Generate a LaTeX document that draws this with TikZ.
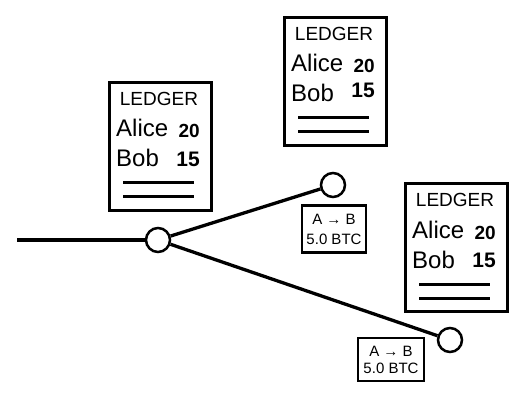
\documentclass[tikz,border=0pt]{standalone}
\usepackage{fontspec}
\setmainfont{Liberation Sans}
\begin{document}
\begin{tikzpicture}[x=1pt,y=-1pt,
  ledgerframe/.style={draw,line width=2.8pt,minimum width=102pt,minimum height=128pt,inner sep=0pt,anchor=north west},
  ledgertitle/.style={inner sep=0pt,anchor=base,font=\fontsize{19}{21}\selectfont},
  ledgername/.style={inner sep=0pt,anchor=base west,font=\fontsize{24}{27}\selectfont},
  ledgerval/.style={inner sep=0pt,anchor=base east,font=\fontsize{21}{23}\selectfont\bfseries},
  ledgerrule/.style={line width=3pt},
  chainnode/.style={circle,draw,line width=2.5pt,fill=white,minimum size=24pt,inner sep=0pt},
  chainline/.style={line width=3.3pt},
  txbox/.style={draw,line width=2.2pt,align=center,inner sep=0pt}
]
\useasboundingbox (0,0) rectangle (519,398);

\newcommand{\myledger}[4]{%
  \node[ledgerframe] (#1) at (#2,#3) {};
  \begin{scope}[shift={(#2,#3)}]
    \node[ledgertitle] (#1t) at (51,25) {LEDGER};
    \node[ledgername] (#1a) at (8,56) {Alice};
    \node[ledgerval,font=\fontsize{19}{21}\selectfont\bfseries] (#1v) at (92,57) {20};
    \node[ledgername] (#1b) at (8,86) {Bob};
    \node[ledgerval] (#1w) at (92,#4) {15};
    \coordinate (#1r1) at (15,102);
    \coordinate (#1r2) at (86,102);
    \coordinate (#1s1) at (15,116);
    \coordinate (#1s2) at (86,116);
    \draw[ledgerrule] (#1r1) -- (#1r2);
    \draw[ledgerrule] (#1s1) -- (#1s2);
  \end{scope}}

\myledger{L1}{108}{81}{86}
\myledger{L2}{283}{16}{82}
\myledger{L3}{404}{182}{85}

\coordinate (start) at (17,240);
\node[chainnode] (A) at (158,240) {};
\node[chainnode] (B) at (333,185) {};
\node[chainnode] (C) at (450,340) {};

\draw[chainline] (start) -- (A);
\draw[chainline] (A) -- (B);
\draw[chainline] (A) -- (C);

\node[txbox,minimum width=64pt,minimum height=47pt,font=\fontsize{15}{20}\selectfont] (T1) at (334,229) {A → B\\5.0 BTC};
\node[txbox,minimum width=66pt,minimum height=43pt,font=\fontsize{15}{17}\selectfont] (T2) at (391,359.5) {A → B\\5.0 BTC};
\end{tikzpicture}
\end{document}
